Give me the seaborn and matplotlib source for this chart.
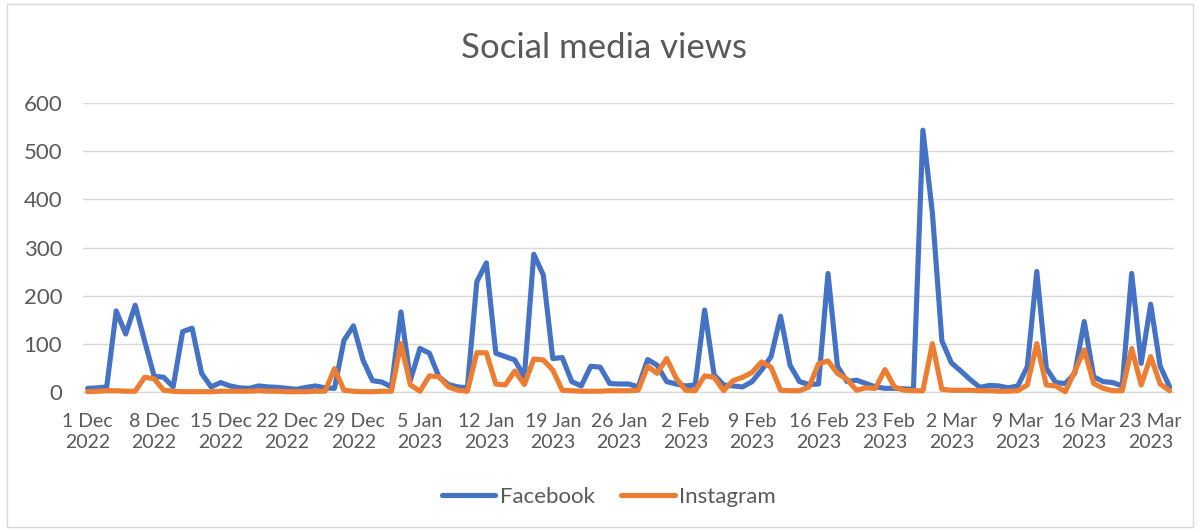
import pandas as pd
import seaborn as sns
from matplotlib import pyplot as plt
from matplotlib.lines import Line2D
from matplotlib.patches import Rectangle

# Daily views, 1 Dec 2022 - 25 Mar 2023
start_date = '2022-12-01'
facebook = [7, 8, 10, 168, 120, 180, 105, 32, 30, 10,
            125, 132, 38, 10, 19, 12, 8, 7, 12, 10,
            9, 7, 5, 9, 12, 8, 7, 107, 137, 66,
            23, 20, 10, 166, 24, 90, 80, 31, 15, 10,
            8, 229, 268, 80, 73, 66, 31, 286, 243, 69,
            71, 21, 12, 53, 51, 17, 16, 16, 10, 67,
            55, 21, 16, 12, 14, 170, 35, 14, 12, 10,
            21, 45, 73, 157, 55, 21, 15, 16, 246, 53,
            21, 24, 17, 10, 7, 7, 6, 5, 544, 372,
            106, 60, 43, 25, 9, 13, 12, 8, 12, 52,
            250, 49, 19, 17, 38, 146, 31, 21, 19, 12,
            246, 59, 182, 53, 10]
instagram = [0, 1, 2, 2, 1, 1, 30, 27, 3, 1,
             0, 0, 0, 0, 1, 1, 1, 1, 2, 1,
             1, 0, 0, 0, 1, 1, 48, 3, 1, 0,
             0, 1, 1, 100, 14, 1, 33, 31, 10, 3,
             1, 81, 81, 16, 14, 43, 15, 68, 66, 45,
             3, 2, 1, 1, 1, 2, 2, 2, 3, 53,
             38, 69, 28, 3, 2, 33, 30, 2, 23, 30,
             40, 62, 51, 3, 2, 2, 10, 58, 64, 38,
             26, 3, 8, 7, 46, 10, 3, 2, 2, 100,
             5, 3, 3, 3, 2, 2, 1, 1, 2, 14,
             100, 14, 12, 0, 42, 87, 17, 7, 2, 2,
             90, 14, 73, 16, 2]
platforms = ['Facebook', 'Instagram']
colors = ['#4472C4', '#ED7D31']
y_ticks = [0, 100, 200, 300, 400, 500, 600]

dates = pd.date_range(start_date, periods=len(facebook), freq='D')
n_days = len(dates)

df = pd.DataFrame({'day': range(n_days), 'Facebook': facebook, 'Instagram': instagram})
df['pos'] = df['day'] + 0.5  # points sit in the middle of each day slot
df_long = df.melt(id_vars=['day', 'pos'], value_vars=platforms,
                  var_name='platform', value_name='views')

sns.set_style('white')
plt.rcParams['font.family'] = ['Lato', 'DejaVu Sans']

W, H = 1199, 531
fig = plt.figure(figsize=(W / 100, H / 100), dpi=100)
ax = fig.add_axes([83 / W, 1 - 391.7 / H, (1174.4 - 83) / W, (391.7 - 103.3) / H])

sns.lineplot(data=df_long, x='pos', y='views', hue='platform', hue_order=platforms,
             palette=colors, linewidth=3.7, ax=ax, legend=False,
             solid_capstyle='round', solid_joinstyle='round', clip_on=False, zorder=3)

grid_c = '#d9d9d9'
text_c = '#595959'
fs = 16

ax.set_xlim(0, n_days)
ax.set_ylim(0, 600)
ax.set_yticks(y_ticks)
ax.yaxis.grid(True, color=grid_c, linewidth=1.0)
ax.set_axisbelow(True)
for s in ['top', 'right', 'left']:
    ax.spines[s].set_visible(False)
ax.spines['bottom'].set_color(grid_c)
ax.spines['bottom'].set_linewidth(1.0)

# weekly tick marks on the slot boundaries, labels centred on the day
week_idx = list(range(0, n_days, 7))
ax.set_xticks(week_idx)
ax.set_xticklabels([])
ax.set_xticks([i + 0.5 for i in week_idx], minor=True)
ax.set_xticklabels([f"{dates[i].day} {dates[i].strftime('%b')}\n{dates[i].year}" for i in week_idx],
                   minor=True)
ax.tick_params(axis='x', which='major', length=6, width=1, color=grid_c, direction='out')
ax.tick_params(axis='x', which='minor', length=0, pad=15, labelsize=14, labelcolor=text_c)
ax.tick_params(axis='y', length=0, pad=15, labelsize=fs, labelcolor=text_c)
for lab in ax.get_xticklabels(minor=True):
    lab.set_linespacing(1.3)
ax.set_xlabel('')
ax.set_ylabel('')

fig.text(604 / W, 1 - 48 / H, 'Social media views', ha='center', va='center',
         fontsize=25, color=text_c)

handles = [Line2D([0], [0], color=c, lw=3.7, solid_capstyle='round') for c in colors]
fig.legend(handles, platforms, loc='center', bbox_to_anchor=(609 / W, 1 - 497 / H),
           ncol=2, frameon=False, fontsize=fs, labelcolor=text_c,
           handlelength=2.4, handletextpad=0.2, columnspacing=1.2)

# chart area border
fig.patches.append(Rectangle((7 / W, 4 / H), (1193 - 7) / W, (527 - 4) / H,
                             transform=fig.transFigure, fill=False,
                             edgecolor=grid_c, linewidth=1.0))

fig.savefig('out.png', dpi=100)
